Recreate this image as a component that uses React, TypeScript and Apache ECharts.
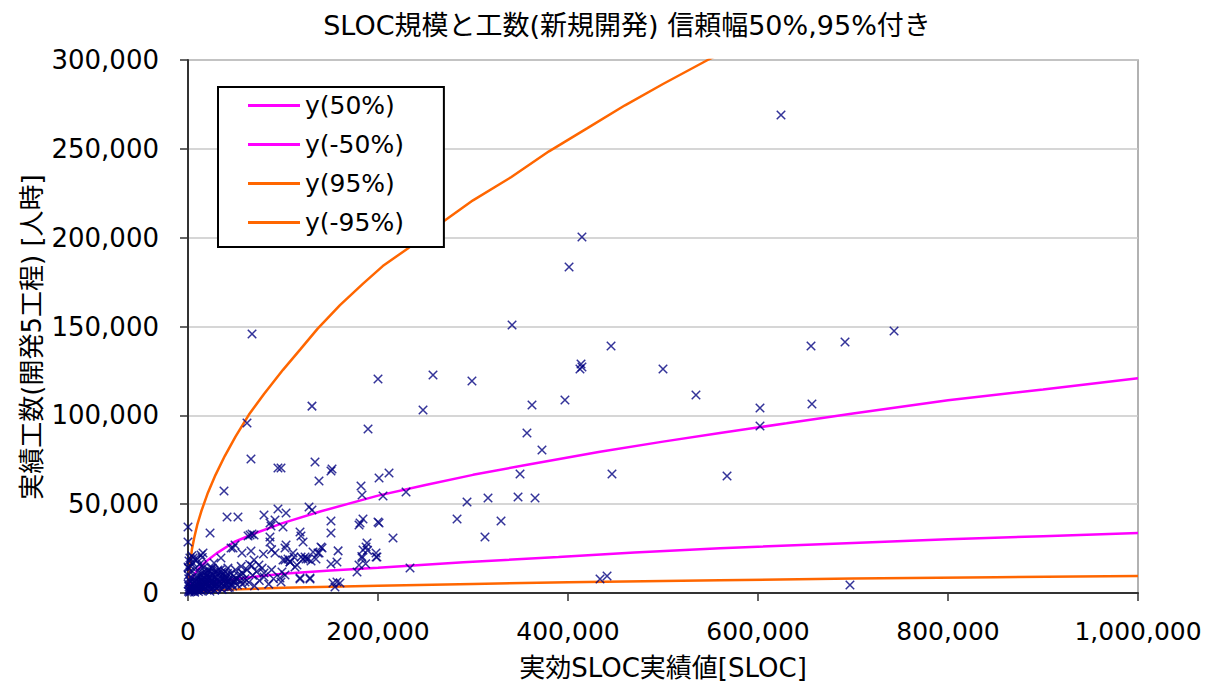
import React, { useEffect, useRef } from "react";
import * as echarts from "echarts";

// Values in thousands (SLOC, man-hours)
const scatterPoints: [number, number][] = [
  [624.2, 269.0], [414.7, 200.4], [401.1, 183.5], [341.1, 150.8], [67.4, 145.8],
  [743.2, 147.5], [691.6, 141.3], [445.3, 139.0], [655.8, 139.0], [413.7, 128.9],
  [412.6, 126.1], [414.7, 127.2], [200.0, 120.4], [257.9, 122.7], [298.9, 119.3],
  [500.0, 126.1], [396.8, 108.6], [534.7, 111.4], [362.1, 105.8], [656.8, 106.4],
  [602.1, 104.1], [130.5, 105.2], [247.4, 103.0], [602.1, 94.0], [62.1, 95.7],
  [356.8, 90.1], [189.5, 92.3], [372.6, 80.5], [66.3, 75.4], [94.7, 70.4],
  [97.9, 70.4], [133.7, 73.7], [150.5, 68.7], [151.6, 69.8], [137.9, 63.0],
  [201.1, 64.7], [211.6, 67.5], [567.4, 65.9], [446.3, 67.0], [349.5, 67.0],
  [182.1, 60.2], [183.2, 55.2], [229.5, 56.8], [205.3, 54.6], [37.9, 57.4],
  [315.8, 53.5], [365.3, 53.5], [293.7, 51.2], [347.4, 54.0], [329.5, 40.5],
  [283.2, 41.7], [312.6, 31.5], [215.8, 31.0], [201.1, 39.4], [181.1, 39.4],
  [184.2, 41.7], [180.0, 38.3], [433.7, 7.9], [441.1, 9.6], [696.8, 4.5],
  [233.7, 14.1], [198.9, 20.3], [180.0, 15.8], [177.9, 11.8], [188.4, 28.1],
  [187.4, 25.9], [184.2, 24.2], [183.2, 19.7], [150.5, 16.3], [156.8, 17.4],
  [152.6, 5.6], [156.8, 6.2], [160.0, 5.6], [154.7, 3.4], [0.0, 37.1],
  [0.0, 28.7], [23.2, 33.8], [41.1, 42.8], [52.6, 42.8], [80.0, 43.9],
  [94.7, 47.3], [103.2, 45.0], [86.3, 39.4], [87.4, 37.7], [91.6, 41.1],
  [65.3, 32.6], [67.4, 33.2], [63.2, 32.1], [69.5, 32.6], [100.0, 37.1],
  [86.3, 31.5], [86.3, 28.7], [103.2, 27.0], [102.1, 25.3], [117.9, 34.3],
  [118.9, 32.1], [121.1, 28.7], [127.4, 48.4], [130.5, 46.7], [150.5, 40.5],
  [150.5, 33.8], [140.0, 25.9], [131.6, 23.1], [49.5, 27.0], [45.3, 25.3],
  [15.8, 22.5], [197.9, 22.5], [141.1, 25.3], [136.8, 22.5], [123.2, 20.3],
  [121.1, 19.1], [126.3, 19.1], [110.5, 22.5], [105.3, 19.1], [102.1, 18.6],
  [107.4, 17.4], [112.6, 14.6], [114.7, 15.8], [98.9, 11.8], [102.1, 10.1],
  [96.8, 8.4], [117.9, 8.4], [128.4, 8.4], [158.0, 23.7], [200.0, 40.0],
  [189.0, 24.0], [183.0, 20.5], [187.0, 16.5], [198.0, 20.3],
  [88.0, 24.4], [79.4, 21.9], [91.6, 22.5], [100.0, 18.6], [107.4, 17.4],
  [111.6, 20.3], [119.0, 20.3], [124.2, 19.1], [129.5, 18.0], [134.7, 19.1],
  [138.0, 22.5], [34.7, 19.7], [47.4, 25.3], [56.8, 22.5], [66.3, 23.6],
  [69.5, 18.6], [74.7, 15.8], [80.0, 11.3], [67.4, 15.2], [56.8, 11.3],
  [60.0, 6.2], [49.5, 7.3], [46.3, 5.1], [38.9, 9.0], [31.6, 12.9],
  [27.4, 16.9], [24.2, 14.1], [16.8, 14.6], [13.7, 21.4], [7.4, 19.1],
  [97.9, 6.2], [117.9, 7.9], [128.4, 7.9], [2.0, 19.7], [0.0, 14.6],
  [0.5, 1.0], [1.0, 2.0], [1.5, 0.5], [2.0, 3.0], [2.5, 1.5], [3.0, 4.0],
  [3.0, 0.8], [4.0, 2.0], [4.5, 5.0], [5.0, 1.0], [5.0, 3.0], [6.0, 6.0],
  [6.0, 2.2], [7.0, 0.5], [7.0, 4.0], [8.0, 3.0], [8.0, 7.0], [9.0, 1.5],
  [9.0, 5.0], [10.0, 2.5], [10.0, 8.0], [11.0, 4.0], [11.0, 0.8], [12.0, 6.0],
  [12.0, 2.0], [13.0, 3.5], [13.0, 9.0], [14.0, 1.2], [14.0, 5.0], [15.0, 7.0],
  [15.0, 2.8], [16.0, 4.0], [16.0, 10.0], [17.0, 1.8], [17.0, 6.0], [18.0, 3.0],
  [18.0, 8.0], [19.0, 5.0], [20.0, 2.0], [20.0, 11.0], [21.0, 7.0], [21.0, 3.5],
  [22.0, 4.5], [22.0, 9.0], [23.0, 1.0], [23.0, 6.0], [24.0, 2.5], [24.0, 12.0],
  [25.0, 5.0], [25.0, 8.0], [26.0, 3.0], [26.0, 10.0], [27.0, 6.5], [28.0, 4.0],
  [28.0, 1.5], [29.0, 9.0], [30.0, 5.5], [30.0, 2.5], [31.0, 7.5], [32.0, 3.5],
  [32.0, 11.0], [33.0, 6.0], [34.0, 4.5], [34.0, 13.0], [35.0, 8.0], [36.0, 2.0],
  [36.0, 5.5], [37.0, 10.0], [38.0, 7.0], [38.0, 3.5], [39.0, 12.0], [40.0, 5.0],
  [40.0, 9.0], [41.0, 6.5], [42.0, 3.0], [42.0, 14.0], [43.0, 8.0], [44.0, 5.0],
  [45.0, 11.0], [46.0, 7.0], [47.0, 4.0], [48.0, 9.5], [49.0, 6.0], [50.0, 13.0],
  [51.0, 8.0], [52.0, 4.5], [53.0, 10.0], [55.0, 7.0], [56.0, 15.0], [57.0, 5.0],
  [58.0, 11.0], [60.0, 8.0], [62.0, 13.0], [64.0, 6.0], [65.0, 16.0], [68.0, 10.0],
  [70.0, 4.0], [72.0, 12.0], [75.0, 7.0], [78.0, 14.0], [80.0, 9.0], [85.0, 5.0],
  [88.0, 13.0], [90.0, 8.0], [0.2, 5.0], [0.3, 10.0], [0.5, 14.0], [1.0, 18.0],
  [0.8, 8.0], [2.0, 12.0], [3.0, 15.0], [5.0, 17.0], [8.0, 14.0], [10.0, 19.0],
  [4.0, 21.0], [12.0, 16.0], [15.0, 20.0], [5.3, 19.7], [14.7, 15.2],
  [1.2, 3.5], [2.2, 6.5], [3.5, 2.6], [4.2, 8.5], [6.5, 3.8], [7.5, 1.8],
  [8.5, 5.5], [9.5, 9.5], [10.5, 6.2], [11.5, 3.2], [12.5, 10.5], [13.5, 7.0],
  [14.5, 4.2], [15.5, 11.5], [16.5, 8.5], [17.5, 12.0], [18.5, 6.2], [19.5, 9.5],
  [20.5, 5.2], [21.5, 13.0], [22.5, 2.6], [23.5, 10.2], [24.5, 7.2], [25.5, 14.0],
  [26.5, 6.0], [27.5, 11.5], [28.5, 8.2], [29.5, 3.8], [30.5, 12.2], [31.5, 5.0],
  [33.5, 9.2], [35.5, 11.8], [37.5, 4.6], [39.5, 7.6], [41.5, 11.0], [43.5, 3.2],
];

const y50: [number, number][] = [
  [0, 0], [2, 6.2], [5, 9.3], [10, 13], [19.6, 18], [30, 22.3], [48.6, 28.7],
  [70, 33.5], [99.5, 39.3], [140, 46], [200, 54.8], [250, 60.8], [300, 66.5],
  [360, 72.5], [433.7, 79.5], [500, 85.2], [560, 90.1], [630, 95.5], [700, 101],
  [800, 108.5], [900, 114.6], [1000, 120.9],
];
const yMinus50: [number, number][] = [
  [0, 0], [3, 1.9], [12, 3.8], [25, 5.4], [45, 7.4], [70, 9.1], [99.5, 10.8],
  [150, 12.6], [200, 14.2], [290, 17.3], [390, 20.2], [470, 22.8], [560, 25.2],
  [700, 28.2], [800, 30.3], [900, 32.0], [1000, 33.8],
];
const y95: [number, number][] = [
  [0, 0], [1, 10], [2, 15], [4.2, 24.8], [6.5, 31], [9.7, 38.3], [14, 46],
  [20.5, 55.8], [29, 66.5], [38.7, 77.1], [50, 88], [64, 100.3], [80, 112],
  [100, 125.6], [118, 137], [136.5, 148.8], [160, 162], [184, 174], [205, 184],
  [231, 193.8], [250, 202], [271, 209.9], [300, 221], [340, 234], [380, 248.6],
  [420, 261.5], [460, 274.5], [500, 286.5], [547, 300], [600, 314],
];
const yMinus95: [number, number][] = [
  [0, 0], [3, 0.6], [12, 1.1], [45, 1.9], [100, 2.9], [200, 4.1], [300, 5.1],
  [400, 6.0], [560, 7.2], [700, 8.1], [850, 8.9], [1000, 9.6],
];

const legendNames = ["y(50%)", "y(-50%)", "y(95%)", "y(-95%)"];
const xTicks = [0, 200000, 400000, 600000, 800000, 1000000];
const yTicks = [0, 50000, 100000, 150000, 200000, 250000, 300000];

const title = "SLOC規模と工数(新規開発) 信頼幅50%,95%付き";
const xName = "実効SLOC実績値[SLOC]";
const yName = "実績工数(開発5工程) [人時]";

const FONT = "'DejaVu Sans', 'Noto Sans CJK JP', sans-serif";
const toUnits = (arr: [number, number][]) => arr.map(([x, y]) => [x * 1000, y * 1000]);
const fmt = (v: number) => v.toLocaleString("en-US");

export default function App() {
  const ref = useRef<HTMLDivElement>(null);
  useEffect(() => {
    if (!ref.current) return;
    const chart = echarts.init(ref.current, undefined, { renderer: "svg" });
    const lineSeries = (name: string, data: [number, number][], color: string) => ({
      name,
      type: "line",
      data: toUnits(data),
      showSymbol: false,
      symbol: "none",
      smooth: false,
      lineStyle: { color, width: 2.5 },
      itemStyle: { color },
      z: 3,
    });
    chart.setOption({
      animation: false,
      backgroundColor: "#ffffff",
      title: {
        text: title,
        left: 622,
        top: 7,
        textAlign: "center",
        textStyle: { fontFamily: FONT, fontSize: 27, fontWeight: "normal", color: "#000" },
      },
      graphic: [
        {
          type: "text",
          x: 32,
          y: 337,
          rotation: Math.PI / 2,
          style: {
            text: yName,
            fontFamily: FONT,
            fontSize: 26,
            fill: "#000",
            align: "center",
            verticalAlign: "middle",
          },
        },
      ],
      grid: {
        left: 188,
        right: 70,
        top: 60,
        bottom: 95,
        show: true,
        borderColor: "#999999",
        borderWidth: 1.5,
        backgroundColor: "#ffffff",
      },
      legend: {
        data: legendNames.map((n) => ({ name: n, icon: "rect" })),
        orient: "vertical",
        left: 218,
        top: 87,
        itemWidth: 52,
        itemHeight: 3,
        itemGap: 14,
        padding: [6, 40, 12, 30],
        backgroundColor: "#ffffff",
        borderColor: "#000000",
        borderWidth: 2,
        textStyle: { fontFamily: FONT, fontSize: 25, color: "#000", lineHeight: 24 },
      },
      xAxis: {
        type: "value",
        min: 0,
        max: 1000000,
        interval: 200000,
        name: xName,
        nameLocation: "middle",
        nameGap: 62,
        nameTextStyle: { fontFamily: FONT, fontSize: 26, color: "#000" },
        axisLine: { show: true, onZero: false, lineStyle: { color: "#333", width: 2 } },
        axisTick: { show: true, inside: false, length: 8, lineStyle: { color: "#333", width: 1.5 } },
        axisLabel: {
          fontFamily: FONT,
          fontSize: 25,
          color: "#000",
          margin: 26,
          formatter: (v: number) => (xTicks.includes(v) ? fmt(v) : ""),
        },
        splitLine: { show: false },
      },
      yAxis: {
        type: "value",
        min: 0,
        max: 300000,
        interval: 50000,
        axisLine: { show: true, onZero: false, lineStyle: { color: "#333", width: 2 } },
        axisTick: { show: true, inside: false, length: 8, lineStyle: { color: "#333", width: 1.5 } },
        axisLabel: {
          fontFamily: FONT,
          fontSize: 26,
          color: "#000",
          margin: 29,
          formatter: (v: number) => (yTicks.includes(v) ? fmt(v) : ""),
        },
        splitLine: { show: true, lineStyle: { color: "#c8c8c8", width: 1.5 } },
      },
      series: [
        {
          name: "data",
          type: "scatter",
          data: toUnits(scatterPoints),
          symbol: "path://M0 0L10 10M10 0L0 10",
          symbolSize: 8.5,
          itemStyle: { color: "rgba(0,0,0,0)", borderColor: "#000080", borderWidth: 1.5 },
          z: 4,
        },
        lineSeries(legendNames[0], y50, "#ff00ff"),
        lineSeries(legendNames[1], yMinus50, "#ff00ff"),
        lineSeries(legendNames[2], y95, "#ff6600"),
        lineSeries(legendNames[3], yMinus95, "#ff6600"),
      ],
    });
    return () => chart.dispose();
  }, []);
  return (
    <div
      ref={ref}
      style={{ position: "fixed", left: 0, top: 0, width: 1208, height: 688, background: "#fff" }}
    />
  );
}
